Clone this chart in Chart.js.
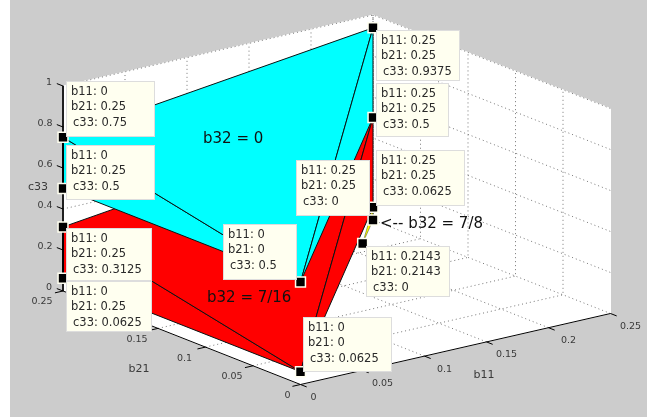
<!DOCTYPE html>
<html>
<head>
<meta charset="utf-8">
<style>
  body { margin: 0; background: #fff; }
  canvas { display: block; }
</style>
<script src="https://cdn.jsdelivr.net/npm/chart.js@4"></script>
</head>
<body>
<canvas id="myChart" width="654" height="420"></canvas>
<script>
// axis ticks
const b11Ticks = [0, 0.05, 0.1, 0.15, 0.2, 0.25];
const b21Ticks = [0, 0.05, 0.1, 0.15, 0.2, 0.25];
const c33Ticks = [0, 0.2, 0.4, 0.6, 0.8, 1];

// surface triangles, each vertex is [b11, b21, c33]
const redTriangles = [
  [[0, 0.25, 0.3125], [0, 0.25, 0.0625], [0, 0, 0.0625]],
  [[0, 0.25, 0.3125], [0, 0, 0.0625], [0.25, 0.25, 0.5]],
  [[0.25, 0.25, 0.5], [0, 0, 0.0625], [0.25, 0.25, 0.0625]],
];
const cyanTriangles = [
  [[0, 0.25, 0.75], [0, 0.25, 0.5], [0, 0, 0.5]],
  [[0, 0.25, 0.75], [0, 0, 0.5], [0.25, 0.25, 0.9375]],
  [[0.25, 0.25, 0.9375], [0, 0, 0.5], [0.25, 0.25, 0.5]],
];
const yellowTriangles = [
  [[0.2143, 0.2143, 0], [0.25, 0.25, 0.0625], [0.25, 0.25, 0]],
];

// data tips
const tipB11 = [0, 0, 0.25, 0.25, 0.25, 0.25, 0, 0, 0, 0, 0.2143];
const tipB21 = [0.25, 0.25, 0.25, 0.25, 0.25, 0.25, 0, 0.25, 0.25, 0, 0.2143];
const tipC33 = [0.75, 0.5, 0.9375, 0.5, 0.0625, 0, 0.5, 0.3125, 0.0625, 0.0625, 0];

// tip box rectangles on the page: left, top, right, bottom
const tipBoxes = [
  [66, 81, 155, 137], [66, 145, 155, 200], [376, 30, 460, 81], [376, 83, 449, 137],
  [376, 150, 465, 206], [296, 160, 370, 216], [223, 224, 297, 280], [66, 228, 152, 281],
  [66, 281, 152, 332], [303, 317, 392, 372], [366, 246, 450, 297],
];

// 3d view: where the box corners land on the page
const origin = [300.5, 384.5];
const perB11 = [310 / 0.25, -71 / 0.25];
const perB21 = [-237.5 / 0.25, -93.5 / 0.25];
const perC33 = [0, -205];

function project(b11, b21, c33) {
  return {
    x: origin[0] + b11 * perB11[0] + b21 * perB21[0],
    y: origin[1] + b11 * perB11[1] + b21 * perB21[1] + c33 * perC33[1],
  };
}

const datasets = [];
function addLine(verts, color, opts) {
  datasets.push(Object.assign({
    data: verts.map(v => project(v[0], v[1], v[2])),
    showLine: true,
    borderColor: color,
    borderWidth: 1,
    pointRadius: 0,
    tension: 0,
  }, opts));
}

const bMax = 0.25;
const cMax = 1;

// white axes background
addLine([[0, bMax, 0], [0, 0, 0], [bMax, 0, 0], [bMax, 0, cMax], [bMax, bMax, cMax], [0, bMax, cMax], [0, bMax, 0]],
  '#fff', { fill: 'shape', backgroundColor: '#fff' });

// dotted grid on floor and both walls
const dotted = { borderDash: [1, 3] };
const gridColor = '#777';
b11Ticks.forEach(t => {
  if (t > 0) addLine([[t, 0, 0], [t, bMax, 0], [t, bMax, cMax]], gridColor, dotted);
});
b21Ticks.forEach(t => {
  if (t > 0) addLine([[0, t, 0], [bMax, t, 0], [bMax, t, cMax]], gridColor, dotted);
});
c33Ticks.forEach(t => {
  if (t > 0) addLine([[0, bMax, t], [bMax, bMax, t], [bMax, 0, t]], gridColor, dotted);
});
addLine([[bMax, bMax, 0], [bMax, bMax, cMax]], gridColor, dotted);

// surfaces, back to front
const edge = '#0a1414';
redTriangles.forEach(t => addLine(t.concat([t[0]]), edge, { fill: 'shape', backgroundColor: '#ff0000' }));
yellowTriangles.forEach(t => addLine(t.concat([t[0]]), edge, { fill: 'shape', backgroundColor: '#ffff00', borderWidth: 0.4 }));
cyanTriangles.forEach(t => addLine(t.concat([t[0]]), edge, { fill: 'shape', backgroundColor: '#00ffff' }));

// solid axis lines and tick marks
addLine([[0, bMax, cMax], [0, bMax, 0], [0, 0, 0], [bMax, 0, 0]], '#000');
const tickB = 0.0065;
c33Ticks.forEach(t => addLine([[0, bMax, t], [0, bMax + tickB, t]], '#000'));
b21Ticks.forEach(t => addLine([[0, t, 0], [-tickB, t, 0]], '#000'));
b11Ticks.forEach(t => addLine([[t, 0, 0], [t, -tickB, 0]], '#000'));

// data tip markers
datasets.push({
  data: tipB11.map((v, i) => project(v, tipB21[i], tipC33[i])),
  pointStyle: 'rect',
  pointRadius: 7,
  pointBackgroundColor: '#000',
  pointBorderColor: '#fffff0',
  pointBorderWidth: 1.5,
  showLine: false,
});

// chart.js paints lower order last, so earlier pushes get the higher order
datasets.forEach((d, i) => { d.order = datasets.length - i; });

const pageBackground = {
  id: 'pageBackground',
  beforeDraw(chart) {
    const ctx = chart.ctx;
    ctx.save();
    ctx.fillStyle = '#cccccc';
    ctx.fillRect(10, 0, 637, 417);
    ctx.restore();
  },
};

const chartText = {
  id: 'chartText',
  afterDatasetsDraw(chart) {
    const ctx = chart.ctx;
    ctx.save();
    ctx.textBaseline = 'middle';
    ctx.textAlign = 'center';

    // tick labels
    ctx.fillStyle = '#3a3a3a';
    ctx.font = '9.5px "DejaVu Sans"';
    c33Ticks.forEach(t => {
      const p = project(0, bMax, t);
      ctx.fillText(String(t), t === 0 || t === 1 ? p.x - 14 : p.x - 18, p.y - 3);
    });
    b21Ticks.forEach(t => {
      const p = project(0, t, 0);
      ctx.fillText(String(t), p.x - (t === 0 ? 13 : 21), p.y + 11);
    });
    b11Ticks.forEach(t => {
      const p = project(t, 0, 0);
      ctx.fillText(String(t), p.x + (t === 0 ? 13 : 20), p.y + 13);
    });

    // axis titles
    ctx.font = '11px "DejaVu Sans"';
    ctx.fillText('b21', 139, 369);
    ctx.fillText('b11', 484, 375);
    ctx.fillText('c33', 38, 187);

    // plane labels
    ctx.fillStyle = '#111';
    ctx.font = '15px "DejaVu Sans"';
    ctx.textAlign = 'left';
    ctx.fillText('b32 = 0', 203, 139);
    ctx.fillText('b32 = 7/16', 207, 298);
    ctx.fillText('<-- b32 = 7/8', 380, 224);

    // data tips
    ctx.font = '11.5px "DejaVu Sans"';
    tipBoxes.forEach((b, i) => {
      ctx.fillStyle = '#fffff0';
      ctx.fillRect(b[0], b[1], b[2] - b[0], b[3] - b[1]);
      ctx.strokeStyle = '#dddddd';
      ctx.lineWidth = 1;
      ctx.strokeRect(b[0] + 0.5, b[1] + 0.5, b[2] - b[0] - 1, b[3] - b[1] - 1);
      ctx.fillStyle = '#2a2a2a';
      ctx.fillText('b11: ' + tipB11[i], b[0] + 5, b[1] + 11);
      ctx.fillText('b21: ' + tipB21[i], b[0] + 5, b[1] + 26.5);
      ctx.fillText('c33: ' + tipC33[i], b[0] + 7, b[1] + 42);
    });
    ctx.restore();
  },
};

new Chart(document.getElementById('myChart').getContext('2d'), {
  type: 'scatter',
  data: { datasets },
  plugins: [pageBackground, chartText],
  options: {
    responsive: false,
    animation: false,
    layout: { padding: 0, autoPadding: false },
    scales: {
      x: { type: 'linear', display: false, min: 0, max: 654 },
      y: { type: 'linear', display: false, min: 0, max: 420, reverse: true },
    },
    plugins: { legend: { display: false }, tooltip: { enabled: false } },
    elements: { line: { borderCapStyle: 'butt' } },
  },
});
</script>
</body>
</html>
